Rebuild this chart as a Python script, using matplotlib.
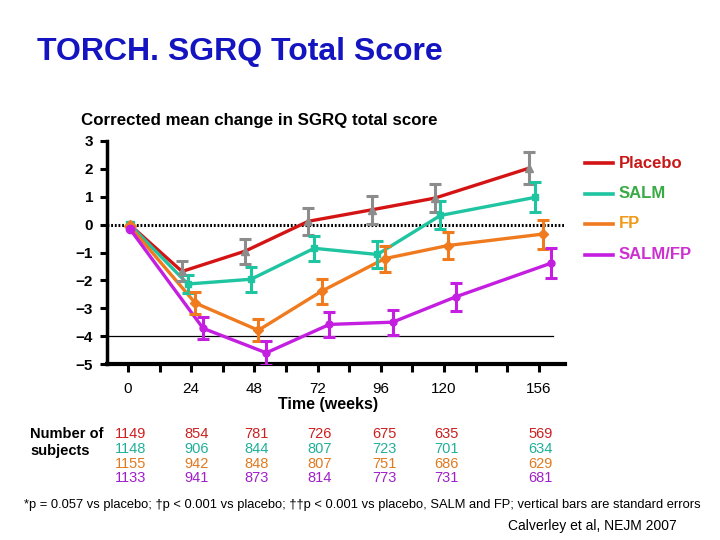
import matplotlib
matplotlib.use('Agg')
import matplotlib.pyplot as plt
import matplotlib.transforms as mtransforms
import numpy as np

plt.rcParams['font.family'] = ['Liberation Sans', 'DejaVu Sans']

# dados
semanas = [0, 24, 48, 72, 96, 120, 156]
rotulos_x = ['0', '24', '48', '72', '96', '120', '156']

placebo = [0, -1.68, -0.95, 0.12, 0.53, 0.95, 2.03]
placebo_ep = [0, 0.36, 0.45, 0.48, 0.50, 0.50, 0.57]
salm = [0, -2.13, -1.96, -0.85, -1.07, 0.33, 0.98]
salm_ep = [0, 0.33, 0.45, 0.45, 0.48, 0.50, 0.54]
fp = [-0.05, -2.81, -3.79, -2.39, -1.22, -0.75, -0.34]
fp_ep = [0, 0.38, 0.40, 0.45, 0.47, 0.50, 0.52]
salm_fp = [-0.14, -3.72, -4.60, -3.58, -3.50, -2.59, -1.39]
salm_fp_ep = [0, 0.39, 0.44, 0.44, 0.45, 0.51, 0.54]

n_placebo = [1149, 854, 781, 726, 675, 635, 569]
n_salm = [1148, 906, 844, 807, 723, 701, 634]
n_fp = [1155, 942, 848, 807, 751, 686, 629]
n_salm_fp = [1133, 941, 873, 814, 773, 731, 681]

nomes = ['Placebo', 'SALM', 'FP', 'SALM/FP']
cores = ['#d41414', '#1fc4a0', '#f07a1e', '#c41ee0']
cores_texto = ['#c81818', '#3aaa44', '#f09a1a', '#cc30d0']
cores_n = ['#cc2020', '#20b09a', '#e07a20', '#a020c8']
cor_titulo = '#1414c0'


def px(x, y):
    return x / 720, 1 - y / 540


fig = plt.figure(figsize=(7.2, 5.4), dpi=100)
ax = fig.add_axes([107 / 720, 1 - 364 / 540, 458 / 720, 223 / 540])

deslocamento = [-3.5, -1.3, 1.5, 4.5]
series = [(placebo, placebo_ep), (salm, salm_ep), (fp, fp_ep), (salm_fp, salm_fp_ep)]
marcadores = ['^', 's', 'D', 'o']

ax.axhline(0, color='black', lw=2.2, linestyle=(0, (0.6, 0.6)), zorder=1)
ax.axhline(-4, xmin=0, xmax=0.974, color='black', lw=0.9, zorder=1)

for i, (valores, ep) in enumerate(series):
    xs = [0.6] + [s + deslocamento[i] for s in semanas[1:]]
    cor_barra = '#8c8c8c' if i == 0 else cores[i]
    ax.plot(xs, valores, color=cores[i], lw=2.4, zorder=3)
    ax.errorbar(xs[1:], valores[1:], yerr=ep[1:], fmt=marcadores[i], color=cor_barra,
                ms=6 if i == 0 else 5, ecolor=cor_barra, elinewidth=2.2, capsize=4,
                capthick=2.2, zorder=4)
    ax.plot(xs[0], valores[0], marker=marcadores[i], color=cores[i], ms=6, zorder=4)

ax.set_xlim(-8, 166)
ax.set_ylim(-5, 3)
ax.set_yticks(range(-5, 4))
ax.set_yticklabels([str(v) if v >= 0 else '\u2212' + str(-v) for v in range(-5, 4)],
                   fontsize=11, fontweight='bold')
ax.set_xticks(semanas)
ax.set_xticklabels(rotulos_x, fontsize=11)
ax.set_xticks(np.arange(0, 157, 12), minor=True)
ax.tick_params(axis='x', which='both', direction='out', length=6, width=2.2, pad=7)
ax.tick_params(axis='y', direction='out', length=5, width=2.2, pad=5)
for lado in ['top', 'right']:
    ax.spines[lado].set_visible(False)
ax.spines['left'].set_linewidth(2.5)
ax.spines['bottom'].set_linewidth(3)

# legenda
for i, nome in enumerate(nomes):
    y = 163 + i * 30.5
    fig.lines.append(plt.Line2D([585 / 720, 613 / 720], [1 - y / 540] * 2,
                                color=cores[i], lw=2.6, transform=fig.transFigure))
    fig.text(*px(619, y), nome, color=cores_texto[i], fontsize=12,
             fontweight='bold', va='center', ha='left')

fig.text(*px(37, 52), 'TORCH. SGRQ Total Score', color=cor_titulo, fontsize=23,
         fontweight='bold', va='center', ha='left')
fig.text(*px(81, 121), 'Corrected mean change in SGRQ total score', fontsize=12.2,
         fontweight='bold', va='center', ha='left')
fig.text(*px(328, 404), 'Time (weeks)', fontsize=11.5, fontweight='bold',
         va='center', ha='center')

# numero de sujeitos
trans = mtransforms.blended_transform_factory(ax.transData, fig.transFigure)
colunas_x = [1.1, 26, 48.7, 72.8, 97.5, 121, 156.6]
for j, (contagens, cor) in enumerate(zip([n_placebo, n_salm, n_fp, n_salm_fp], cores_n)):
    y = 1 - (434 + j * 14.8) / 540
    for xc, n in zip(colunas_x, contagens):
        ax.text(xc, y, str(n), color=cor, fontsize=10.5, ha='center', va='center',
                transform=trans)
fig.text(*px(30, 434), 'Number of', fontsize=10.5, fontweight='bold', va='center', ha='left')
fig.text(*px(30, 451), 'subjects', fontsize=10.5, fontweight='bold', va='center', ha='left')

fig.text(*px(24, 505), '*p = 0.057 vs placebo; \u2020p < 0.001 vs placebo; \u2020\u2020p < 0.001 vs placebo, '
         'SALM and FP; vertical bars are standard errors', fontsize=9.25,
         family=['Liberation Sans Narrow', 'Liberation Sans'], va='center', ha='left')
fig.text(*px(677, 526), 'Calverley et al, NEJM 2007', fontsize=10,
         family=['Liberation Sans Narrow', 'Liberation Sans'], va='center', ha='right')

fig.savefig('out.png', dpi=100)
